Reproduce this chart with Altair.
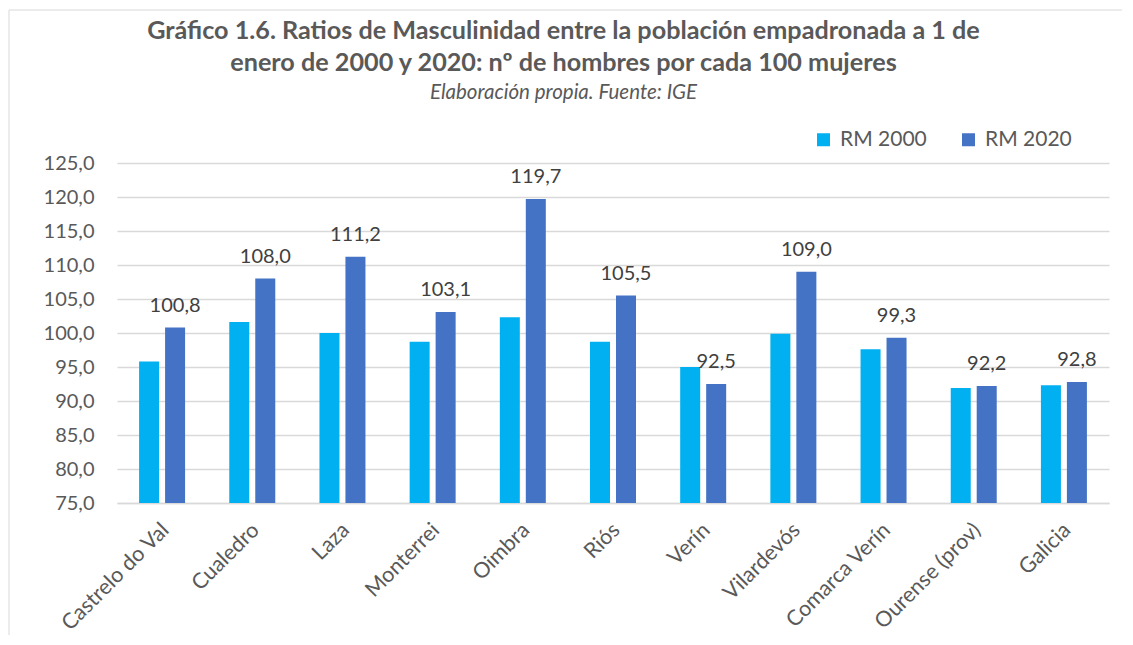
import altair as alt
import pandas as pd

municipios = ["Castrelo do Val", "Cualedro", "Laza", "Monterrei", "Oimbra", "Riós",
              "Verín", "Vilardevós", "Comarca Verín", "Ourense (prov)", "Galicia"]
rm2000 = [95.8, 101.6, 100.0, 98.7, 102.3, 98.7, 95.0, 99.9, 97.6, 91.9, 92.3]
rm2020 = [100.8, 108.0, 111.2, 103.1, 119.7, 105.5, 92.5, 109.0, 99.3, 92.2, 92.8]
series = ["RM 2000", "RM 2020"]
colores = ["#00B0F0", "#4472C4"]
ticks_y = [75, 80, 85, 90, 95, 100, 105, 110, 115, 120, 125]

rows = []
for m, a, b in zip(municipios, rm2000, rm2020):
    rows.append({"municipio": m, "serie": series[0], "valor": a})
    rows.append({"municipio": m, "serie": series[1], "valor": b})
df = pd.DataFrame(rows)

FONT = "Lato"
GREY = "#595959"
BORDER = "#D9D9D9"

x = alt.X("municipio:N", sort=municipios, title=None,
          scale=alt.Scale(paddingInner=0.49, paddingOuter=0.245),
          axis=alt.Axis(labelAngle=-45, labelAlign="right", labelBaseline="top",
                        labelFontSize=21.5, labelColor=GREY, labelFont=FONT,
                        labelPadding=16, labelOffset=-4, ticks=False, domainColor="#D9D9D9",
                        domainWidth=1.5, labelLimit=300, labelOverlap=False))
xoff = alt.XOffset("serie:N", sort=series, scale=alt.Scale(paddingInner=0.23, paddingOuter=0))

bars = alt.Chart(df).mark_bar(clip=True).encode(
    x=x,
    xOffset=xoff,
    y=alt.Y("valor:Q", title=None,
            scale=alt.Scale(domain=[75, 125], zero=False, nice=False),
            axis=alt.Axis(values=ticks_y, tickCount=len(ticks_y), format=",.1f",
                          labelFontSize=20, labelColor=GREY, labelFont=FONT,
                          labelPadding=23, ticks=False, domain=False,
                          labelOverlap=False,
                          gridColor="#D9D9D9", gridWidth=1.5)),
    color=alt.Color("serie:N", sort=series,
                    scale=alt.Scale(domain=series, range=colores),
                    legend=alt.Legend(title=None, orient="none", direction="horizontal",
                                      legendX=696, legendY=-34, symbolType="square",
                                      symbolSize=169, symbolStrokeWidth=0,
                                      labelFontSize=21, labelColor=GREY, labelFont=FONT,
                                      labelOffset=6, columnPadding=31)),
)

labels = alt.Chart(df).transform_filter(alt.datum.serie == "RM 2020").mark_text(
    baseline="alphabetic", dy=-16, fontSize=20, font=FONT, color="#404040"
).encode(
    x=alt.X("municipio:N", sort=municipios),
    xOffset=xoff,
    y="valor:Q",
    text=alt.Text("valor:Q", format=",.1f"),
)

# chart-area frame (decoration, as in the spreadsheet chart box)
frame_left = alt.Chart().mark_rule(color=BORDER, strokeWidth=1).encode(
    x=alt.value(-108), y=alt.value(-153), y2=alt.value(472))
frame_top = alt.Chart().mark_rule(color=BORDER, strokeWidth=1).encode(
    x=alt.value(-108), x2=alt.value(1005), y=alt.value(-153))

chart = alt.layer(frame_left, frame_top, bars, labels).properties(
    width=992, height=340,
    padding={"left": 0, "top": 1, "right": 0, "bottom": 0},
    title=alt.TitleParams(
        text=["Gráfico 1.6. Ratios de Masculinidad entre la población empadronada a 1 de",
              "enero de 2000 y 2020: nº de hombres por cada 100 mujeres"],
        subtitle="Elaboración propia. Fuente: IGE",
        font=FONT, fontSize=25.2, fontWeight="bold", color=GREY, lineHeight=32,
        subtitleFont=FONT, subtitleFontSize=20.5, subtitleFontStyle="italic",
        subtitleColor=GREY, subtitlePadding=7,
        anchor="middle", frame="bounds", dx=-2, offset=-94,
    ),
).configure(
    locale={"number": {"decimal": ",", "thousands": ".", "grouping": [3],
                       "currency": ["", " €"]}}
).configure_view(stroke=None)

chart.save("out.html", embed_options={"renderer": "svg", "actions": False})
